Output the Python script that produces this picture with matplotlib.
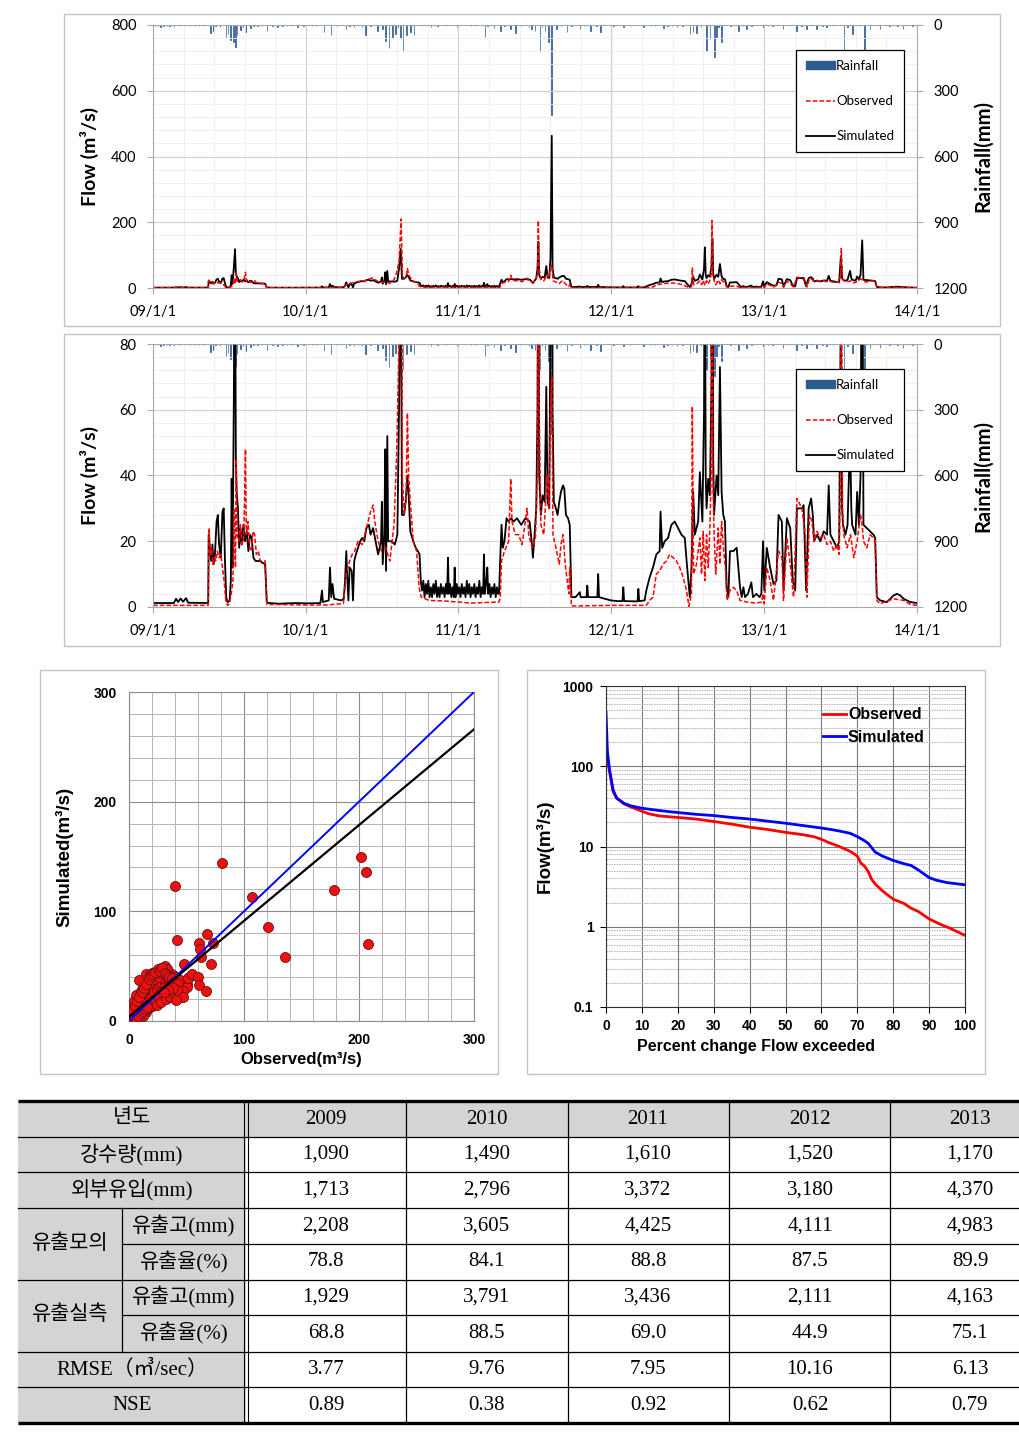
import matplotlib
matplotlib.use("Agg")
import matplotlib.pyplot as plt
import numpy as np
from matplotlib.lines import Line2D
from matplotlib.patches import Patch, Rectangle
from matplotlib.ticker import FixedLocator, FixedFormatter, MultipleLocator, NullFormatter

plt.rcParams['font.family'] = ['Liberation Sans', 'Noto Sans CJK KR', 'DejaVu Sans']

W, H = 1019, 1440
START = np.datetime64('2009-01-01')

# ---- daily flow series (day 0 = 2009-01-01) ----
sim_day = [
    0, 50, 55, 60, 66, 72, 79, 84, 132, 133, 136, 139, 142, 145, 148, 152, 155, 158, 162, 166,
    169, 172, 175, 178, 183, 186, 188, 190, 193, 196, 198, 200, 203, 206, 209, 212, 216, 220, 224, 228,
    232, 236, 240, 245, 255, 268, 272, 300, 340, 365,
    400, 404, 406, 420, 423, 426, 429, 433, 450, 456, 459, 462, 464, 467, 470, 475, 478, 481, 485, 490,
    495, 500, 505, 510, 516, 520, 526, 532, 538, 545, 547, 549, 553, 555, 557, 560, 562, 570, 578, 584,
    588, 592, 595, 600, 604, 608, 611, 615, 622, 628, 633, 637, 640,
    643, 646, 649, 652, 655, 658, 661, 664, 667, 670, 673, 676, 679, 682, 685, 688, 691, 694, 697, 700,
    703, 705, 707, 710, 713, 716, 719, 721, 723, 726, 729, 732, 735, 738, 741, 744, 747, 750, 753, 756,
    759, 762, 765, 768, 771, 774, 777, 780, 783, 786, 789, 791, 793, 796, 799, 801, 804, 807, 810, 813,
    816, 819, 822, 825, 827,
    830, 833, 836, 840, 845, 850, 855, 862, 870, 880, 890, 900, 905, 908, 912, 916, 919, 921, 923, 927,
    931, 936, 940, 943, 947, 950, 953, 955, 958, 963, 967, 971, 975, 980, 983, 987, 992, 996, 1000, 1010,
    1020, 1022, 1036, 1038, 1040, 1062, 1064, 1066, 1080, 1095,
    1110, 1122, 1124, 1126, 1158, 1160, 1162, 1175, 1179, 1187, 1195, 1203, 1211, 1213, 1217, 1223, 1231, 1239, 1247, 1255,
    1263, 1271, 1276, 1283, 1287, 1291, 1295, 1303, 1307, 1313, 1317, 1319, 1321, 1323, 1327, 1331, 1335, 1337, 1339, 1341,
    1347, 1351, 1355, 1359, 1363, 1367, 1371, 1375, 1379, 1387, 1395, 1403, 1407, 1411, 1415, 1422, 1430, 1434, 1442, 1450,
    1454, 1458,
    1461, 1467, 1475, 1483, 1490, 1495, 1503, 1507, 1515, 1523, 1529, 1535, 1539, 1551, 1555, 1561, 1567, 1573, 1577, 1580,
    1587, 1595, 1603, 1611, 1615, 1619, 1627, 1635, 1640, 1644, 1647, 1649, 1655, 1660, 1666, 1669, 1671, 1679, 1683, 1687,
    1691, 1695, 1698, 1706, 1714, 1722, 1726, 1730, 1738, 1754, 1770, 1778, 1786, 1794, 1810, 1826,
]
sim_flow = [
    1.2, 1.2, 2.5, 1.5, 2.6, 1.6, 2.7, 1.3, 1.2, 22, 18, 14, 19, 13, 16, 26, 28, 19, 15, 29,
    30, 14, 3, 1.5, 1.8, 8, 39, 12, 60, 118, 45, 35, 30, 18, 24, 19, 25, 20, 23, 17,
    22, 21, 15, 14, 14, 13, 1.3, 1.0, 1.2, 1.1,
    1.2, 5, 1.5, 2, 12, 3, 7, 2.5, 2, 2.5, 8, 17, 10, 2, 12, 11, 2, 14, 16, 18,
    20, 21, 20, 24, 25, 22, 24, 20, 16, 20, 32, 13, 22, 48, 11, 52, 20, 20, 19, 22,
    60, 119, 28, 28, 32, 40, 34, 23, 20, 18, 17, 16, 8,
    5, 8, 3, 7, 4, 8, 3, 6, 3, 7, 4, 8, 3, 6, 3, 7, 4, 6, 3, 7,
    4, 15, 4, 7, 3, 6, 3, 12, 3, 7, 4, 6, 3, 7, 4, 6, 3, 8, 4, 7,
    3, 6, 4, 7, 3, 6, 4, 8, 3, 6, 4, 16, 4, 7, 12, 4, 7, 3, 6, 4,
    7, 3, 6, 4, 4,
    15, 25, 18, 20, 27, 26, 27, 26, 27, 25, 27, 26, 20, 15, 22, 30, 60, 141, 40, 28,
    34, 32, 67, 32, 30, 90, 463, 60, 32, 30, 28, 32, 35, 37, 36, 28, 27, 25, 3, 3,
    4.5, 3, 3, 6.5, 3, 3, 10, 3, 2.5, 2,
    1.8, 1.8, 6, 1.8, 1.7, 5.5, 1.8, 2, 5, 9, 12, 16, 17, 29, 18, 20, 21, 25, 26, 24,
    22, 21, 13, 3, 12, 35, 22, 26, 41, 26, 60, 124, 40, 30, 39, 34, 70, 150, 45, 28,
    40, 34, 73, 35, 28, 26, 6, 3, 17, 17, 18, 6, 3, 6, 3, 4, 7.5, 3, 4, 3,
    4, 20,
    5, 18, 12, 7, 8, 28, 26, 5, 27, 24, 8, 5, 30, 30, 31, 5, 30, 33, 28, 20,
    22, 20, 23, 22, 37, 22, 20, 18, 20, 95, 30, 25, 22, 25, 52, 30, 25, 22, 35, 25,
    40, 145, 25, 24, 23, 22, 21, 3, 2, 1.5, 3.5, 4, 3.5, 2.5, 1.5, 1.2,
]

obs_day = [
    0, 132, 134, 137, 140, 143, 147, 150, 154, 158, 162, 166, 170, 174, 178, 183, 187, 191, 194, 197,
    199, 201, 205, 209, 213, 217, 221, 223, 227, 231, 235, 239, 243, 247, 252, 256, 268, 272, 365,
    420, 430, 455, 462, 466, 470, 476, 482, 490, 500, 510, 520, 526, 530, 538, 546, 556, 566, 576, 582,
    588, 593, 596, 600, 605, 608, 611, 615, 622, 630, 636, 641, 660, 700, 760, 827,
    830, 833, 840, 850, 855, 858, 866, 874, 882, 890, 894, 898, 906, 914, 919, 921, 923, 927, 934, 942,
    946, 950, 953, 956, 963, 971, 975, 980, 986, 994, 996, 1000, 1095,
    1179, 1187, 1195, 1203, 1211, 1219, 1227, 1235, 1243, 1251, 1259, 1267, 1275, 1281, 1287, 1289, 1292, 1299, 1307, 1311,
    1315, 1319, 1323, 1327, 1331, 1334, 1336, 1338, 1341, 1345, 1351, 1355, 1359, 1364, 1368, 1372, 1379, 1387, 1395, 1403,
    1420, 1440, 1455, 1458,
    1461, 1467, 1475, 1483, 1495, 1503, 1507, 1515, 1523, 1531, 1539, 1551, 1559, 1563, 1569, 1575, 1580, 1587, 1595, 1603,
    1611, 1619, 1627, 1635, 1640, 1643, 1645, 1648, 1651, 1659, 1667, 1675, 1683, 1691, 1695, 1698, 1706, 1714, 1722, 1726,
    1730, 1738, 1770, 1794, 1810, 1826,
]
obs_flow = [
    0.5, 0.5, 24, 16, 18, 13, 15, 14, 17, 15, 16, 12, 8, 2, 0.5, 1, 4, 8, 30, 12,
    45, 22, 20, 25, 19, 21, 48, 22, 26, 18, 17, 23, 22, 16, 17, 14, 14, 0.8, 0.6,
    0.6, 0.8, 1, 10, 12, 14, 16, 17, 20, 19, 24, 29, 31, 26, 20, 17, 18, 14, 25, 45,
    80, 210, 40, 28, 34, 59, 40, 32, 20, 17, 6, 3, 2, 1.8, 1.2, 1.5,
    3, 14, 17, 20, 39, 26, 22, 22, 19, 26, 30, 22, 18, 21, 41, 205, 60, 25, 22, 40,
    30, 60, 70, 22, 18, 13, 19, 22, 12, 4, 12, 0.3, 0.5,
    0.5, 2, 3, 10, 11, 13, 14, 16, 15, 14, 12, 9, 5, 0.2, 4, 61, 10, 13, 21, 10,
    23, 8, 22, 12, 24, 40, 205, 40, 22, 10, 24, 13, 26, 17, 12, 2, 5, 6, 5, 2,
    1.5, 1.2, 1.5, 4,
    1, 12, 8, 2, 17, 15, 2, 21, 13, 3, 33, 30, 22, 3, 28, 26, 20, 23, 21, 22,
    19, 20, 17, 19, 16, 40, 120, 30, 22, 18, 22, 15, 20, 28, 25, 20, 18, 22, 21, 20,
    2, 1, 2.5, 2, 0.8, 0.5,
]

rain_day = [
    5, 12, 18, 25, 33, 40, 50, 62, 74, 88, 100, 110, 120, 138, 144, 150, 160, 174, 179, 185,
    192, 197, 201, 209, 215, 221, 233, 240, 250, 260, 272, 285, 297, 310, 320, 330, 345, 360, 380, 390,
    409, 425, 440, 461, 470, 480, 490, 500, 508, 520, 536, 548, 556, 564, 572, 580, 586, 592, 598, 606,
    616, 624, 640, 664, 680, 700, 727, 760, 770, 793, 800, 815, 831, 840, 855, 867, 880, 899, 905, 913,
    925, 930, 937, 945, 952, 965, 975, 989, 1000, 1021, 1030, 1045, 1060, 1069, 1100, 1124, 1140, 1172, 1190, 1200,
    1220, 1230, 1240, 1252, 1265, 1283, 1291, 1299, 1310, 1323, 1331, 1342, 1347, 1352, 1359, 1380, 1399, 1410, 1419, 1430,
    1459, 1470, 1480, 1506, 1520, 1538, 1550, 1562, 1575, 1586, 1600, 1610, 1625, 1652, 1660, 1672, 1680, 1690, 1700, 1714,
    1730, 1738, 1760, 1780, 1793, 1800, 1815,
]
rain_mm = [
    4, 3, 8, 3, 5, 3, 10, 4, 8, 5, 3, 4, 6, 38, 26, 5, 7, 56, 41, 68,
    79, 99, 44, 23, 8, 33, 14, 5, 6, 4, 26, 5, 11, 4, 6, 3, 8, 4, 3, 5,
    33, 44, 6, 18, 5, 7, 4, 9, 44, 6, 26, 18, 71, 106, 56, 41, 12, 59, 117, 44,
    33, 44, 6, 11, 4, 5, 8, 4, 6, 53, 5, 14, 26, 6, 18, 38, 5, 11, 18, 26,
    125, 9, 26, 79, 409, 18, 6, 33, 5, 18, 4, 26, 5, 33, 4, 11, 5, 11, 4, 6,
    14, 5, 4, 11, 5, 41, 33, 38, 8, 117, 64, 148, 56, 10, 79, 6, 26, 5, 18, 4,
    11, 5, 6, 18, 6, 26, 5, 18, 6, 18, 5, 11, 6, 114, 8, 41, 6, 5, 114, 18,
    5, 18, 4, 6, 18, 5, 4,
]

year_dates = ['2009-01-01', '2010-01-01', '2011-01-01', '2012-01-01', '2013-01-01', '2014-01-01']
year_labels = ['09/1/1', '10/1/1', '11/1/1', '12/1/1', '13/1/1', '14/1/1']

# ---- scatter: observed vs simulated (m3/s) ----
scatter_obs = [
    1, 2, 1, 3, 4, 2, 5, 6, 3, 7, 8, 5, 9, 10, 4, 11, 12, 8, 13, 14,
    6, 15, 16, 10, 17, 18, 12, 19, 20, 14, 21, 22, 16, 23, 24, 18, 25, 26, 20, 27,
    28, 22, 29, 30, 24, 31, 32, 26, 33, 34, 28, 35, 36, 30, 37, 38, 40, 42, 44, 46,
    34, 30, 25, 20, 15, 10, 6, 38, 44, 48, 50, 52, 28, 12, 16, 35, 40, 22, 26, 18, 9,
    31, 33, 28, 9, 15, 18, 44, 50, 51,
    3, 5, 7, 9, 11, 13, 15, 17, 19, 21, 23, 25, 27, 29, 31, 33, 35, 37, 39, 41, 43,
    2, 4, 6, 8, 10, 12, 14, 16, 24, 28, 32, 36, 40, 44, 47, 42, 38, 34, 30,
    40, 81, 107, 121, 136, 178, 202, 206, 208, 42, 68, 61, 62, 73, 63, 71, 48, 55, 60, 61, 67, 47, 41,
]
scatter_sim = [
    1, 3, 5, 2, 6, 8, 4, 9, 12, 6, 11, 15, 8, 13, 18, 16, 10, 20, 19, 14,
    24, 22, 17, 27, 25, 20, 32, 28, 23, 36, 31, 26, 40, 35, 29, 42, 38, 32, 44, 41,
    34, 38, 44, 37, 46, 42, 36, 40, 47, 40, 44, 38, 44, 30, 35, 42, 33, 38, 30, 36,
    25, 22, 18, 14, 8, 4, 2, 28, 25, 30, 34, 40, 26, 5, 12, 32, 40, 18, 22, 13, 3,
    50, 47, 48, 37, 43, 42, 37, 31, 39,
    9, 14, 18, 22, 26, 30, 34, 38, 41, 43, 45, 47, 46, 48, 44, 42, 40, 39, 36, 32, 34,
    0.5, 2, 3, 5, 7, 9, 11, 13, 15, 17, 20, 22, 24, 22, 27, 28, 30, 28, 26,
    123, 144, 113, 86, 58, 119, 150, 136, 70, 74, 79, 71, 66, 71, 58, 52, 52, 43, 40, 33, 27, 22, 19,
]
line_obs = [0, 300]
line_one_to_one = [0, 300]
line_fit = [4, 266]

# ---- flow duration curves ----
fdc_obs_pct = [0, 0.4, 1, 2, 3, 5, 7, 10, 12, 15, 20, 25, 30, 35, 40, 45, 50, 55, 58, 60,
               62, 65, 68, 70, 71, 72, 73, 74, 75, 77, 80, 83, 85, 87, 90, 93, 96, 100]
fdc_obs_flow = [210, 120, 85, 48, 40, 34, 31, 27.5, 25.5, 24, 23, 22, 20.5, 19, 17.4, 16.3, 15, 14, 13.2, 12.3,
                11.2, 10, 8.7, 7.6, 6.2, 5.7, 4.9, 3.9, 3.4, 2.8, 2.2, 1.95, 1.7, 1.55, 1.25, 1.08, 0.95, 0.78]
fdc_sim_pct = [0, 0.4, 1, 2, 3, 5, 7, 10, 15, 20, 25, 30, 35, 40, 45, 50, 55, 60, 63, 65,
               68, 70, 72, 73, 75, 77, 80, 83, 85, 87, 90, 92, 95, 100]
fdc_sim_flow = [470, 150, 90, 50, 40, 34.5, 32, 30, 28, 26.5, 25.2, 24.3, 23, 22, 20.7, 19.5, 18.2, 17, 16.2, 15.6,
                14.6, 13.3, 11.8, 11, 8.5, 7.6, 6.7, 6.1, 5.8, 5.1, 4.1, 3.8, 3.55, 3.33]

# ---- table ----
table_years = [2009, 2010, 2011, 2012, 2013]
rainfall_mm = [1090, 1490, 1610, 1520, 1170]
inflow_mm = [1713, 2796, 3372, 3180, 4370]
sim_depth_mm = [2208, 3605, 4425, 4111, 4983]
sim_ratio = [78.8, 84.1, 88.8, 87.5, 89.9]
obs_depth_mm = [1929, 3791, 3436, 2111, 4163]
obs_ratio = [68.8, 88.5, 69.0, 44.9, 75.1]
rmse = [3.77, 9.76, 7.95, 10.16, 6.13]
nse = [0.89, 0.38, 0.92, 0.62, 0.79]

RAIN_COLOR = '#2d5b8e'
AXIS_GRAY = '#a8a8a8'
TS_FONT = ['Lato', 'DejaVu Sans']
TABLE_FONT = ['Liberation Serif', 'Noto Sans CJK KR']


def px_rect(x0, y0, x1, y1):
    return [x0 / W, 1 - y1 / H, (x1 - x0) / W, (y1 - y0) / H]


def to_dates(days):
    return START + np.array(days).astype('timedelta64[D]')


def flow_panel(fig, rect, ymax, ystep, yminor):
    ax = fig.add_axes(rect)
    axr = ax.twinx()

    axr.bar(to_dates(rain_day), rain_mm, width=1.3, color=RAIN_COLOR,
            edgecolor=RAIN_COLOR, linewidth=0.5, align='center')
    axr.set_ylim(1200, 0)
    axr.set_yticks([0, 300, 600, 900, 1200])
    axr.tick_params(axis='y', length=4, color=AXIS_GRAY, labelsize=10.5, pad=8)
    for lab in axr.get_yticklabels():
        lab.set_family(TS_FONT)
    axr.set_ylabel('Rainfall(mm)', fontsize=14.5, fontweight='bold', family=TS_FONT)
    axr.yaxis.set_label_coords(1.074, 0.5)
    for s in ('left', 'top', 'bottom'):
        axr.spines[s].set_visible(False)
    axr.spines['right'].set_color(AXIS_GRAY)

    ax.set_zorder(axr.get_zorder() + 1)
    ax.patch.set_visible(False)
    ax.plot(to_dates(sim_day), sim_flow, color='black', lw=1.3)
    ax.plot(to_dates(obs_day), obs_flow, color='#ff0000', lw=1.1, ls=(0, (3, 1.4)))

    xd = np.array(year_dates, dtype='datetime64[D]')
    ax.set_xlim(xd[0], xd[-1])
    ax.set_ylim(0, ymax)
    ax.set_xticks(xd)
    ax.set_xticklabels(year_labels, family=TS_FONT, fontsize=10.5)
    minor_x = START + np.array([round(i * 365.25 / 5) for i in range(26)]).astype('timedelta64[D]')
    ax.xaxis.set_minor_locator(FixedLocator(matplotlib.dates.date2num(minor_x)))
    ax.xaxis.set_minor_formatter(NullFormatter())
    ax.yaxis.set_major_locator(MultipleLocator(ystep))
    ax.yaxis.set_minor_locator(MultipleLocator(yminor))
    for lab in ax.get_yticklabels():
        lab.set_family(TS_FONT)
    ax.tick_params(axis='both', which='major', length=4, color=AXIS_GRAY, labelsize=10.5)
    ax.tick_params(axis='x', which='major', pad=8)
    ax.tick_params(axis='y', which='major', pad=8)
    ax.tick_params(which='minor', length=0)
    ax.grid(which='major', color='#cfcfcf', lw=0.8)
    ax.grid(which='minor', color='#eeeeee', lw=0.6)
    ax.set_axisbelow(True)
    ax.spines['right'].set_visible(False)
    ax.spines['top'].set_color('#8fa3bd')
    ax.spines['top'].set_linewidth(0.6)
    ax.spines['left'].set_color(AXIS_GRAY)
    ax.spines['bottom'].set_color(AXIS_GRAY)
    ax.set_ylabel('Flow (m³/s)', fontsize=14, fontweight='bold', family=TS_FONT)
    ax.yaxis.set_label_coords(-0.071, 0.5)

    handles = [Patch(facecolor=RAIN_COLOR, edgecolor=RAIN_COLOR),
               Line2D([], [], color='#ff0000', lw=1.1, ls=(0, (3, 1.4))),
               Line2D([], [], color='black', lw=1.3)]
    leg = ax.legend(handles, ['Rainfall', 'Observed', 'Simulated'], loc='upper left',
                    bbox_to_anchor=(0.8416, 0.905), frameon=True, fancybox=False,
                    edgecolor='black', framealpha=1, labelspacing=1.75, handlelength=2.2,
                    handleheight=0.5, handletextpad=0.1, borderpad=0.75, borderaxespad=0,
                    prop={'family': TS_FONT, 'size': 9.5})
    leg.get_frame().set_linewidth(0.9)
    return ax


def scatter_panel(fig):
    ax = fig.add_axes(px_rect(129, 692, 474, 1021))
    ax.scatter(scatter_obs, scatter_sim, s=52, c='#ee1111', edgecolors='#6a1010',
               linewidths=0.6, zorder=3)
    ax.plot(line_obs, line_one_to_one, color='#0000ff', lw=1.4, zorder=4)
    ax.plot(line_obs, line_fit, color='black', lw=1.6, zorder=4)
    ax.set_xlim(0, 300)
    ax.set_ylim(0, 300)
    for axis in (ax.xaxis, ax.yaxis):
        axis.set_major_locator(MultipleLocator(100))
        axis.set_minor_locator(MultipleLocator(20))
    ax.grid(which='major', color='#8c8c8c', lw=0.8)
    ax.grid(which='minor', color='#b4b4b4', lw=0.7)
    ax.set_axisbelow(True)
    ax.tick_params(which='both', length=0, labelsize=10, pad=9)
    for lab in ax.get_xticklabels() + ax.get_yticklabels():
        lab.set_fontweight('bold')
    for s in ax.spines.values():
        s.set_color('#8c8c8c')
    ax.set_xlabel('Observed(m³/s)', fontsize=12, fontweight='bold', labelpad=3)
    ax.set_ylabel('Simulated(m³/s)', fontsize=13.5, fontweight='bold', labelpad=14)


def fdc_panel(fig):
    ax = fig.add_axes(px_rect(606, 686, 965, 1007))
    ax.plot(fdc_obs_pct, fdc_obs_flow, color='#ff0000', lw=2.0, label='Observed')
    ax.plot(fdc_sim_pct, fdc_sim_flow, color='#0000ff', lw=2.0, label='Simulated')
    ax.set_yscale('log')
    ax.set_xlim(0, 100)
    ax.set_ylim(0.1, 1000)
    ax.xaxis.set_major_locator(MultipleLocator(10))
    ax.yaxis.set_major_locator(FixedLocator([0.1, 1, 10, 100, 1000]))
    ax.yaxis.set_major_formatter(FixedFormatter(['0.1', '1', '10', '100', '1000']))
    ax.yaxis.set_minor_locator(FixedLocator(
        [m * d for d in (0.1, 1, 10, 100) for m in range(2, 10)]))
    ax.yaxis.set_minor_formatter(NullFormatter())
    ax.grid(which='major', color='#7a7a7a', lw=0.8)
    ax.grid(which='minor', axis='y', color='#b0b0b0', lw=0.6, ls=(0, (2, 1)))
    ax.set_axisbelow(True)
    ax.tick_params(which='major', length=4, labelsize=10, pad=5)
    ax.tick_params(which='minor', length=0)
    for lab in ax.get_xticklabels() + ax.get_yticklabels():
        lab.set_fontweight('bold')
    for s in ax.spines.values():
        s.set_color('#333333')
    ax.set_xlabel('Percent change Flow exceeded', fontsize=11.5, fontweight='bold', labelpad=6)
    ax.xaxis.set_label_coords(0.418, -0.1)
    ax.set_ylabel('Flow(m³/s)', fontsize=13.5, fontweight='bold', labelpad=6)
    ax.legend(loc='upper left', bbox_to_anchor=(0.565, 0.978), frameon=False,
              handlelength=1.4, handletextpad=0.15, labelspacing=0.45,
              prop={'weight': 'bold', 'size': 11.5})


def table_panel(tax):
    row_y = [1101, 1137, 1172, 1208, 1244, 1280, 1315, 1352, 1387, 1423]
    col_x = [18, 246, 406, 568, 729, 890, 1019]
    split_x = 122
    gray = '#d4d4d4'
    tax.add_patch(Rectangle((col_x[0], row_y[0]), col_x[-1] - col_x[0], row_y[1] - row_y[0],
                            fc=gray, ec='none'))
    tax.add_patch(Rectangle((col_x[0], row_y[1]), col_x[1] - col_x[0], row_y[-1] - row_y[1],
                            fc=gray, ec='none'))
    for y in row_y[1:-1]:
        x0 = split_x if y in (row_y[4], row_y[6]) else col_x[0]
        tax.plot([x0, col_x[-1]], [y, y], color='black', lw=0.9)
    for y in (row_y[0], row_y[-1]):
        tax.plot([col_x[0], col_x[-1]], [y, y], color='black', lw=2.4, solid_capstyle='butt')
    tax.plot([split_x, split_x], [row_y[3], row_y[7]], color='black', lw=0.9)
    for x in (col_x[1] - 1.8, col_x[1] + 1.8):
        tax.plot([x, x], [row_y[0], row_y[-1]], color='black', lw=0.8)
    for x in col_x[2:-1]:
        tax.plot([x, x], [row_y[0], row_y[-1]], color='black', lw=0.9)

    mids = [(a + b) / 2 for a, b in zip(row_y[:-1], row_y[1:])]
    col_mid = [326, 487, 648, 810, 970]
    full_mid = (col_x[0] + col_x[1]) / 2
    sub_mid = (split_x + col_x[1]) / 2
    grp_mid = (col_x[0] + split_x) / 2
    kw = dict(ha='center', va='center', fontsize=15, family=TABLE_FONT)

    tax.text(full_mid, mids[0], '년도', **kw)
    tax.text(full_mid, mids[1], '강수량(mm)', **kw)
    tax.text(full_mid, mids[2], '외부유입(mm)', **kw)
    tax.text(grp_mid, row_y[4], '유출모의', **kw)
    tax.text(sub_mid, mids[3], '유출고(mm)', **kw)
    tax.text(sub_mid, mids[4], '유출율(%)', **kw)
    tax.text(grp_mid, row_y[6], '유출실측', **kw)
    tax.text(sub_mid, mids[5], '유출고(mm)', **kw)
    tax.text(sub_mid, mids[6], '유출율(%)', **kw)
    tax.text(full_mid, mids[7], 'RMSE（㎥/sec）', **kw)
    tax.text(full_mid, mids[8], 'NSE', **kw)

    rows = [
        [str(v) for v in table_years],
        [f'{v:,}' for v in rainfall_mm],
        [f'{v:,}' for v in inflow_mm],
        [f'{v:,}' for v in sim_depth_mm],
        [f'{v:.1f}' for v in sim_ratio],
        [f'{v:,}' for v in obs_depth_mm],
        [f'{v:.1f}' for v in obs_ratio],
        [f'{v:.2f}' for v in rmse],
        [f'{v:.2f}' for v in nse],
    ]
    for r, vals in enumerate(rows):
        for c, txt in enumerate(vals):
            tax.text(col_mid[c], mids[r], txt, **kw)


def main():
    fig = plt.figure(figsize=(W / 100, H / 100), dpi=100)
    fig.patch.set_facecolor('white')

    flow_panel(fig, px_rect(153, 25, 917, 288), 800, 200, 40)
    flow_panel(fig, px_rect(153, 344, 917, 607), 80, 20, 4)
    scatter_panel(fig)
    fdc_panel(fig)

    tax = fig.add_axes([0, 0, 1, 1])
    tax.set_xlim(0, W)
    tax.set_ylim(H, 0)
    tax.axis('off')
    tax.patch.set_visible(False)
    for x0, y0, x1, y1 in [(64, 14, 1000, 326), (64, 334, 1000, 646),
                           (40, 670, 498, 1074), (527, 670, 985, 1074)]:
        tax.add_patch(Rectangle((x0, y0), x1 - x0, y1 - y0, fc='none', ec='#c4c4c4', lw=1.0))
    table_panel(tax)

    fig.savefig('out.png', dpi=100)


if __name__ == '__main__':
    main()
